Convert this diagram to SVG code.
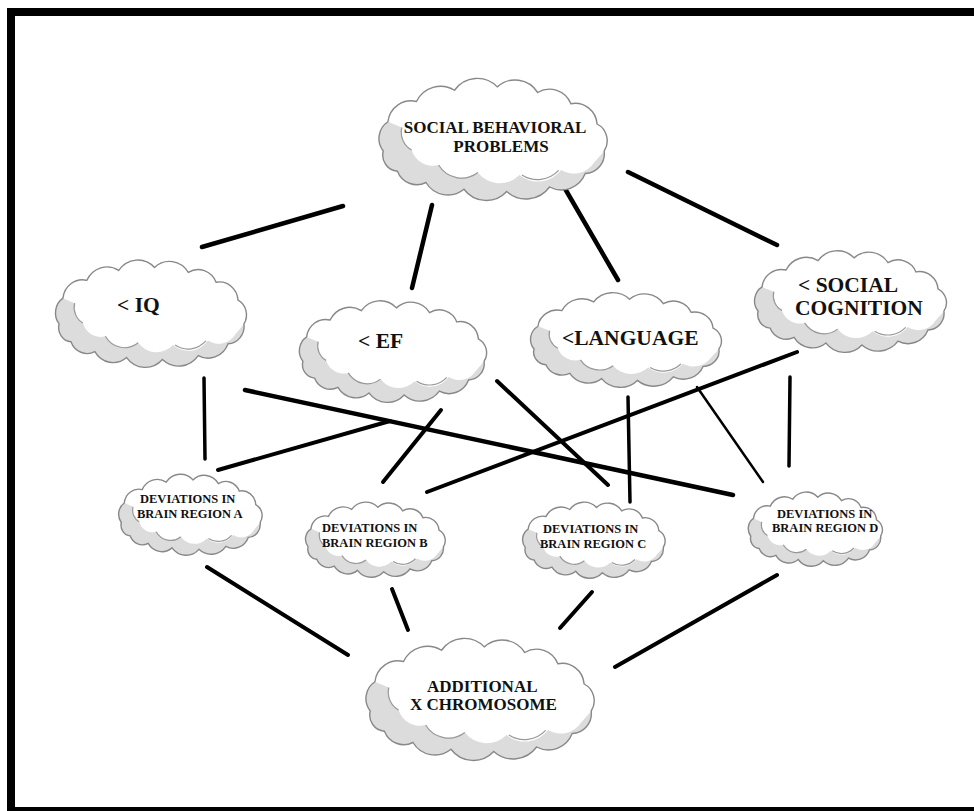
<svg xmlns="http://www.w3.org/2000/svg" xmlns:xlink="http://www.w3.org/1999/xlink" width="974" height="811" viewBox="0 0 974 811">
<style>
  .frame{fill:#000}
  .conn line{stroke:#000;stroke-linecap:round}
  .shadow{fill:#dcdcdc;stroke:none}
  .white{fill:#fff;stroke:none}
  .inner{fill:none;stroke:#999;stroke-width:1.2}
  .outline{fill:none;stroke:#888;stroke-width:1.4}
  text{font-family:"Liberation Serif","Times New Roman",serif;font-weight:bold;fill:#111}
  .big{font-size:21.5px}
  .mid{font-size:17px}
  .sm{font-size:12.5px}
</style>
<defs>
  <path id="cOuter" vector-effect="non-scaling-stroke" d="M10.8,60.8 A16,16 0 0 1 14.6,37.4 A19,19 0 0 1 37.9,21.2 A22,22 0 0 1 69,12.2 A23,23 0 0 1 103.9,9.5 A22,22 0 0 1 136.9,14 A19,19 0 0 1 164,23 A18,18 0 0 1 185.4,39.2 A15,15 0 0 1 191.2,60.8 A16,16 0 0 1 175.7,78.8 A21,21 0 0 1 146.6,89.6 A24,24 0 0 1 111.6,93.2 A23,23 0 0 1 76.7,91.4 A21,21 0 0 1 45.7,86 A17,17 0 0 1 22.4,77 A13,13 0 0 1 10.8,60.8 Z"/>
  <path id="cInner" vector-effect="non-scaling-stroke" d="M14.6,37.4 A19,19 0 0 1 37.9,21.2 A22,22 0 0 1 69,12.2 A23,23 0 0 1 103.9,9.5 A22,22 0 0 1 136.9,14 A19,19 0 0 1 164,23 A18,18 0 0 1 185.4,39.2 A15,15 0 0 1 191.2,60.8 L183,70 A20,20 0 0 1 156,76 A24,24 0 0 1 122,80 A23,23 0 0 1 88,78 A22,22 0 0 1 56,72 A18,18 0 0 1 34,60 A16,16 0 0 1 26,42 Z"/>
  <path id="cLines" vector-effect="non-scaling-stroke" d="M88,78 A22,22 0 0 1 56,72 M154,76.3 A24,24 0 0 1 124,80 M34,60 A16,16 0 0 1 26,42"/>
  <g id="cloud">
    <use xlink:href="#cOuter" class="shadow"/>
    <use xlink:href="#cInner" class="white"/>
    <use xlink:href="#cLines" class="inner"/>
    <use xlink:href="#cOuter" class="outline"/>
  </g>
</defs>
<rect width="974" height="811" fill="#fff"/>
<g id="frame" class="frame">
  <rect x="7" y="8" width="967" height="8"/>
  <rect x="7" y="8" width="8" height="803"/>
  <rect x="7" y="807" width="967" height="4"/>
</g>
<g id="connectors" class="conn">
  <line x1="343" y1="206" x2="202" y2="247" stroke-width="4.5"/>
  <line x1="432" y1="205" x2="412" y2="288" stroke-width="4.5"/>
  <line x1="560" y1="180" x2="618" y2="280" stroke-width="4.5"/>
  <line x1="628" y1="172" x2="777" y2="245" stroke-width="4.5"/>
  <line x1="204" y1="378" x2="205" y2="459" stroke-width="3.5"/>
  <line x1="245" y1="390" x2="733" y2="495" stroke-width="4.5"/>
  <line x1="218" y1="470" x2="390" y2="421" stroke-width="4"/>
  <line x1="441" y1="410" x2="383" y2="482" stroke-width="4"/>
  <line x1="427" y1="492" x2="797" y2="352" stroke-width="4"/>
  <line x1="497" y1="381" x2="608" y2="485" stroke-width="4"/>
  <line x1="628" y1="397" x2="630" y2="502" stroke-width="3.5"/>
  <line x1="697" y1="387" x2="763" y2="482" stroke-width="2.5"/>
  <line x1="790" y1="377" x2="789" y2="466" stroke-width="3.5"/>
  <line x1="207" y1="567" x2="348" y2="655" stroke-width="4"/>
  <line x1="392" y1="589" x2="408" y2="630" stroke-width="4"/>
  <line x1="592" y1="592" x2="560" y2="628" stroke-width="4"/>
  <line x1="777" y1="575" x2="615" y2="667" stroke-width="4"/>
</g>
<g id="n-social-behavioral">
  <use xlink:href="#cloud" transform="translate(370,75) scale(1.225,1.25)"/>
  <text class="mid" x="495" y="133" text-anchor="middle">SOCIAL BEHAVIORAL</text>
  <text class="mid" x="501" y="152" text-anchor="middle">PROBLEMS</text>
</g>
<g id="n-iq">
  <use xlink:href="#cloud" transform="translate(48,257) scale(1.025,1.1)"/>
  <text class="big" x="117" y="312">&lt; IQ</text>
</g>
<g id="n-ef">
  <use xlink:href="#cloud" transform="translate(292,298) scale(1.005,1.04)"/>
  <text class="big" x="358" y="348">&lt; EF</text>
</g>
<g id="n-language">
  <use xlink:href="#cloud" transform="translate(523,290) scale(1.025,0.97)"/>
  <text class="big" x="562" y="345">&lt;LANGUAGE</text>
</g>
<g id="n-social-cognition">
  <use xlink:href="#cloud" transform="translate(747,248) scale(1.03,1.04)"/>
  <text class="big" x="798" y="292">&lt; SOCIAL</text>
  <text class="big" x="795" y="315">COGNITION</text>
</g>
<g id="n-region-a">
  <use xlink:href="#cloud" transform="translate(113,472) scale(0.77,0.83)"/>
  <text class="sm" x="140" y="503">DEVIATIONS IN</text>
  <text class="sm" x="137" y="518">BRAIN REGION A</text>
</g>
<g id="n-region-b">
  <use xlink:href="#cloud" transform="translate(300,500) scale(0.75,0.77)"/>
  <text class="sm" x="322" y="532">DEVIATIONS IN</text>
  <text class="sm" x="322" y="547">BRAIN REGION B</text>
</g>
<g id="n-region-c">
  <use xlink:href="#cloud" transform="translate(517,500) scale(0.765,0.78)"/>
  <text class="sm" x="543" y="533">DEVIATIONS IN</text>
  <text class="sm" x="540" y="548">BRAIN REGION C</text>
</g>
<g id="n-region-d">
  <use xlink:href="#cloud" transform="translate(743,490) scale(0.72,0.76)"/>
  <text class="sm" x="777" y="518">DEVIATIONS IN</text>
  <text class="sm" x="772" y="532">BRAIN REGION D</text>
</g>
<g id="n-x-chromosome">
  <use xlink:href="#cloud" transform="translate(357,635) scale(1.225,1.25)"/>
  <text class="mid" x="427" y="692">ADDITIONAL</text>
  <text class="mid" x="410" y="710">X CHROMOSOME</text>
</g>
</svg>
